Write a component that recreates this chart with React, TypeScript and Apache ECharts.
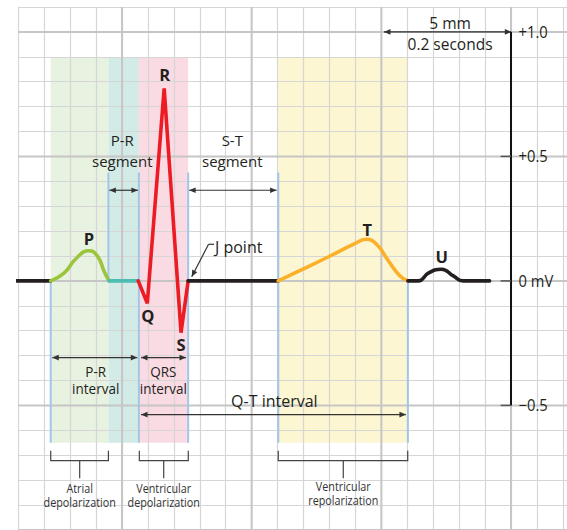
import React, { useEffect, useRef } from "react";
import * as echarts from "echarts";

// ---- Axes: x in seconds, y in millivolts ----
const X_RANGE = [0, 0.8464];
const Y_RANGE = [-1.0, 1.1];
const SMALL_BOX_S = 0.04;
const SMALL_BOX_MV = 0.1;
const MAJOR_X_S = [0.16, 0.36, 0.56, 0.76];
const MAJOR_Y_MV = [1.0, 0.5, 0, -0.5, -1.0];

// ---- ECG trace segments [s, mV] ----
const LEAD_IN = [[-0.008, 0], [0.05, 0]];
const P_WAVE = [[0.05, 0], [0.07, 0.03], [0.09, 0.092], [0.109, 0.121], [0.122, 0.1], [0.133, 0.035], [0.14, 0]];
const PR_SEGMENT = [[0.14, 0], [0.185, 0]];
const QRS_COMPLEX = [[0.185, 0], [0.199, -0.09], [0.225, 0.773], [0.251, -0.208], [0.262, 0]];
const ST_SEGMENT = [[0.262, 0], [0.401, 0]];
const T_WAVE = [[0.401, 0], [0.43, 0.036], [0.481, 0.1], [0.519, 0.15], [0.537, 0.167], [0.553, 0.146], [0.57, 0.084], [0.588, 0.022], [0.601, 0]];
const U_TAIL = [[0.601, 0], [0.617, 0], [0.633, 0.032], [0.653, 0.047], [0.671, 0.02], [0.686, 0], [0.727, 0]];

// ---- Phase shading [x0, x1] and its vertical extent ----
const PHASE_BANDS = [[0.05, 0.139], [0.139, 0.186], [0.186, 0.262], [0.401, 0.601]];
const BAND_MV = [-0.65, 0.895];
// boundary markers [x, yTop, yBottom]
const BOUNDARIES = [[0.05, 0, -0.65], [0.139, 0.435, 0], [0.186, 0.435, -0.65], [0.262, 0.435, -0.65], [0.401, 0.435, -0.65], [0.601, 0, -0.65]];

// arrows [x0, y0, x1, y1, heads(2=both,1=end)]
const ARROWS = [
  [0.1405, 0.364, 0.1845, 0.364, 2],
  [0.2635, 0.364, 0.3985, 0.364, 2],
  [0.0524, -0.308, 0.1836, -0.308, 2],
  [0.1893, -0.308, 0.2587, -0.308, 2],
  [0.1893, -0.537, 0.598, -0.537, 2],
  [0.5641, 1.0, 0.7605, 1.0, 2],
  [0.2935, 0.147, 0.2675, 0.017, 1],
];
const PLAIN_LINES = [[0.2935, 0.147, 0.302, 0.147]];

// scale bar
const SCALE_X = 0.76;
const SCALE_TICK_FROM = 0.744;
const SCALE_VALUES = [1.0, 0.5, 0, -0.5];
const SCALE_LABELS = ["+1.0", "+0.5", "0 mV", "\u22120.5"];

// brackets [x0, x1, stemX]
const BRACKETS = [[0.05, 0.139, 0.0947], [0.1867, 0.2622, 0.2243], [0.401, 0.6007, 0.5013]];
const BRACKET_Y = [-0.682, -0.722, -0.793];

type Label = { text: string; x: number; y: number; size: number; bold?: boolean; sx?: number; align?: string; color?: string };
const LABELS: Label[] = [
  { text: "P", x: 0.109, y: 0.171, size: 16.5, bold: true },
  { text: "R", x: 0.2258, y: 0.828, size: 16.5, bold: true },
  { text: "Q", x: 0.1996, y: -0.137, size: 16.5, bold: true },
  { text: "S", x: 0.251, y: -0.256, size: 16.5, bold: true },
  { text: "T", x: 0.5384, y: 0.208, size: 16.5, bold: true },
  { text: "U", x: 0.6531, y: 0.1, size: 16.5, bold: true },
  { text: "P-R", x: 0.1604, y: 0.567, size: 15 },
  { text: "segment", x: 0.1604, y: 0.483, size: 15 },
  { text: "S-T", x: 0.3301, y: 0.567, size: 15 },
  { text: "segment", x: 0.3301, y: 0.483, size: 15 },
  { text: "J point", x: 0.3034, y: 0.136, size: 16, align: "left" },
  { text: "P-R", x: 0.1194, y: -0.362, size: 15, sx: 0.9 },
  { text: "interval", x: 0.1194, y: -0.431, size: 15, sx: 0.9 },
  { text: "QRS", x: 0.2237, y: -0.362, size: 15, sx: 0.9 },
  { text: "interval", x: 0.2237, y: -0.431, size: 15, sx: 0.9 },
  { text: "Q-T interval", x: 0.395, y: -0.482, size: 16 },
  { text: "5 mm", x: 0.666, y: 1.036, size: 15.5 },
  { text: "0.2 seconds", x: 0.666, y: 0.952, size: 15.5 },
  { text: "Atrial", x: 0.0947, y: -0.829, size: 13, sx: 0.83, color: "#333" },
  { text: "depolarization", x: 0.0947, y: -0.885, size: 13, sx: 0.83, color: "#333" },
  { text: "Ventricular", x: 0.2243, y: -0.829, size: 13, sx: 0.83, color: "#333" },
  { text: "depolarization", x: 0.2243, y: -0.885, size: 13, sx: 0.83, color: "#333" },
  { text: "Ventricular", x: 0.5013, y: -0.822, size: 13, sx: 0.83, color: "#333" },
  { text: "repolarization", x: 0.5013, y: -0.879, size: 13, sx: 0.83, color: "#333" },
];

const INK = "#231f20";
const FONT = '"Open Sans", "Noto Sans", sans-serif';
const BAND_COLORS = ["#e8f2e0", "#d3ebe6", "#fbdbe3", "#fdf6d2"];

function arrowHead(tip: number[], from: number[], color: string) {
  const L = 6.5, W = 2.8;
  const dx = tip[0] - from[0], dy = tip[1] - from[1];
  const len = Math.hypot(dx, dy) || 1;
  const ux = dx / len, uy = dy / len;
  const bx = tip[0] - ux * L, by = tip[1] - uy * L;
  return {
    type: "polygon",
    shape: { points: [tip, [bx - uy * W, by + ux * W], [bx + uy * W, by - ux * W]] },
    style: { fill: color },
  };
}

function buildOption() {
  const ecg = (name: string, data: number[][], color: string, smooth: number | boolean) => ({
    type: "line",
    name,
    data,
    symbol: "none",
    showSymbol: false,
    smooth,
    clip: false,
    silent: true,
    z: 10,
    lineStyle: { color, width: 3.6, join: "miter", cap: "round" },
  });

  return {
    animation: false,
    backgroundColor: "#ffffff",
    grid: { left: 18.3, top: 7, width: 548.7, height: 522.9 },
    xAxis: {
      type: "value",
      min: X_RANGE[0],
      max: X_RANGE[1],
      interval: SMALL_BOX_S,
      z: 3,
      axisLine: { show: false },
      axisTick: { show: false },
      axisLabel: { show: false },
      splitLine: { show: true, lineStyle: { color: "#d6d6d6", width: 1.2 } },
    },
    yAxis: {
      type: "value",
      min: Y_RANGE[0],
      max: Y_RANGE[1],
      interval: SMALL_BOX_MV,
      z: 3,
      axisLine: { show: false },
      axisTick: { show: false },
      axisLabel: { show: false },
      splitLine: { show: true, lineStyle: { color: "#d6d6d6", width: 1.2 } },
    },
    series: [
      {
        type: "custom",
        name: "phases",
        silent: true,
        z: 1,
        data: PHASE_BANDS,
        renderItem: (params: any, api: any) => {
          const p0 = api.coord([api.value(0), BAND_MV[1]]);
          const p1 = api.coord([api.value(1), BAND_MV[0]]);
          return {
            type: "rect",
            shape: { x: p0[0], y: p0[1], width: p1[0] - p0[0], height: p1[1] - p0[1] },
            style: { fill: BAND_COLORS[params.dataIndex] },
          };
        },
      },
      {
        type: "custom",
        name: "majorGrid",
        silent: true,
        z: 4,
        data: [...MAJOR_X_S.map((v) => [v, 0]), ...MAJOR_Y_MV.map((v) => [1, v])],
        renderItem: (params: any, api: any) => {
          const isX = params.dataIndex < MAJOR_X_S.length;
          let a, b;
          if (isX) {
            const v = MAJOR_X_S[params.dataIndex];
            a = api.coord([v, Y_RANGE[1]]);
            b = api.coord([v, Y_RANGE[0]]);
          } else {
            const v = MAJOR_Y_MV[params.dataIndex - MAJOR_X_S.length];
            a = api.coord([X_RANGE[0], v]);
            b = api.coord([X_RANGE[1], v]);
          }
          return {
            type: "line",
            shape: { x1: a[0], y1: a[1], x2: b[0], y2: b[1] },
            style: { stroke: "#c6c6c6", lineWidth: 2 },
          };
        },
      },
      {
        type: "custom",
        name: "boundaries",
        silent: true,
        z: 5,
        data: BOUNDARIES,
        renderItem: (params: any, api: any) => {
          const a = api.coord([api.value(0), api.value(1)]);
          const b = api.coord([api.value(0), api.value(2)]);
          return {
            type: "line",
            shape: { x1: a[0], y1: a[1], x2: b[0], y2: b[1] },
            style: { stroke: "#a3c6e8", lineWidth: 2 },
          };
        },
      },
      {
        type: "custom",
        name: "arrows",
        silent: true,
        z: 12,
        data: ARROWS,
        renderItem: (params: any, api: any) => {
          const a = api.coord([api.value(0), api.value(1)]);
          const b = api.coord([api.value(2), api.value(3)]);
          const heads = api.value(4);
          const color = "#333333";
          const children: any[] = [
            { type: "line", shape: { x1: a[0], y1: a[1], x2: b[0], y2: b[1] }, style: { stroke: color, lineWidth: 1.2 } },
            arrowHead(b, a, color),
          ];
          if (heads === 2) children.push(arrowHead(a, b, color));
          return { type: "group", children };
        },
      },
      {
        type: "custom",
        name: "plainLines",
        silent: true,
        z: 12,
        data: PLAIN_LINES,
        renderItem: (params: any, api: any) => {
          const a = api.coord([api.value(0), api.value(1)]);
          const b = api.coord([api.value(2), api.value(3)]);
          return { type: "line", shape: { x1: a[0], y1: a[1], x2: b[0], y2: b[1] }, style: { stroke: "#333333", lineWidth: 1.2 } };
        },
      },
      {
        type: "custom",
        name: "scale",
        silent: true,
        z: 12,
        data: SCALE_VALUES.map((v) => [SCALE_X, v]),
        renderItem: (params: any, api: any) => {
          const i = params.dataIndex;
          const v = SCALE_VALUES[i];
          const p = api.coord([SCALE_X, v]);
          const t = api.coord([SCALE_TICK_FROM, v]);
          const lab = api.coord([0.7717, v]);
          const children: any[] = [
            {
              type: "text",
              x: lab[0],
              y: lab[1],
              scaleX: 0.92,
              style: { text: SCALE_LABELS[i], fill: INK, fontSize: 16, fontFamily: FONT, align: "left", verticalAlign: "middle" },
            },
          ];
          if (i > 0) {
            children.push({ type: "line", shape: { x1: t[0], y1: t[1], x2: p[0], y2: p[1] }, style: { stroke: "#555555", lineWidth: 1.5 } });
          }
          if (i === 0) {
            const bottom = api.coord([SCALE_X, SCALE_VALUES[SCALE_VALUES.length - 1]]);
            children.push({ type: "line", shape: { x1: p[0], y1: p[1], x2: bottom[0], y2: bottom[1] }, style: { stroke: "#111111", lineWidth: 2 } });
          }
          return { type: "group", children };
        },
      },
      {
        type: "custom",
        name: "brackets",
        silent: true,
        z: 12,
        data: BRACKETS,
        renderItem: (params: any, api: any) => {
          const x0 = api.value(0), x1 = api.value(1), xs = api.value(2);
          const a = api.coord([x0, BRACKET_Y[0]]);
          const b = api.coord([x0, BRACKET_Y[1]]);
          const c = api.coord([x1, BRACKET_Y[1]]);
          const d = api.coord([x1, BRACKET_Y[0]]);
          const s0 = api.coord([xs, BRACKET_Y[1]]);
          const s1 = api.coord([xs, BRACKET_Y[2]]);
          return {
            type: "group",
            children: [
              { type: "polyline", shape: { points: [a, b, c, d] }, style: { stroke: "#444444", lineWidth: 1.2, fill: null } },
              { type: "line", shape: { x1: s0[0], y1: s0[1], x2: s1[0], y2: s1[1] }, style: { stroke: "#444444", lineWidth: 1.2 } },
            ],
          };
        },
      },
      ecg("lead-in", LEAD_IN, INK, false),
      ecg("P wave", P_WAVE, "#9cc43c", 0.5),
      ecg("P-R segment", PR_SEGMENT, "#4dbdb3", false),
      ecg("QRS complex", QRS_COMPLEX, "#ed1c24", false),
      ecg("S-T segment", ST_SEGMENT, INK, false),
      ecg("T wave", T_WAVE, "#fbb02a", 0.5),
      ecg("U wave", U_TAIL, INK, 0.5),
      {
        type: "custom",
        name: "labels",
        silent: true,
        z: 15,
        data: LABELS.map((l) => [l.x, l.y]),
        renderItem: (params: any, api: any) => {
          const l = LABELS[params.dataIndex];
          const p = api.coord([api.value(0), api.value(1)]);
          return {
            type: "text",
            x: p[0],
            y: p[1],
            scaleX: l.sx ?? 1,
            style: {
              text: l.text,
              fill: l.color ?? INK,
              fontSize: l.size,
              fontFamily: FONT,
              fontWeight: l.bold ? "bold" : "normal",
              align: l.align ?? "center",
              verticalAlign: "middle",
            },
          };
        },
      },
    ],
  };
}

export default function App() {
  const ref = useRef<HTMLDivElement>(null);
  useEffect(() => {
    if (!ref.current) return;
    const chart = echarts.init(ref.current, undefined, { renderer: "svg" });
    chart.setOption(buildOption() as any);
    return () => chart.dispose();
  }, []);
  return <div ref={ref} style={{ position: "fixed", left: 0, top: 0, width: 567, height: 530, background: "#fff" }} />;
}
